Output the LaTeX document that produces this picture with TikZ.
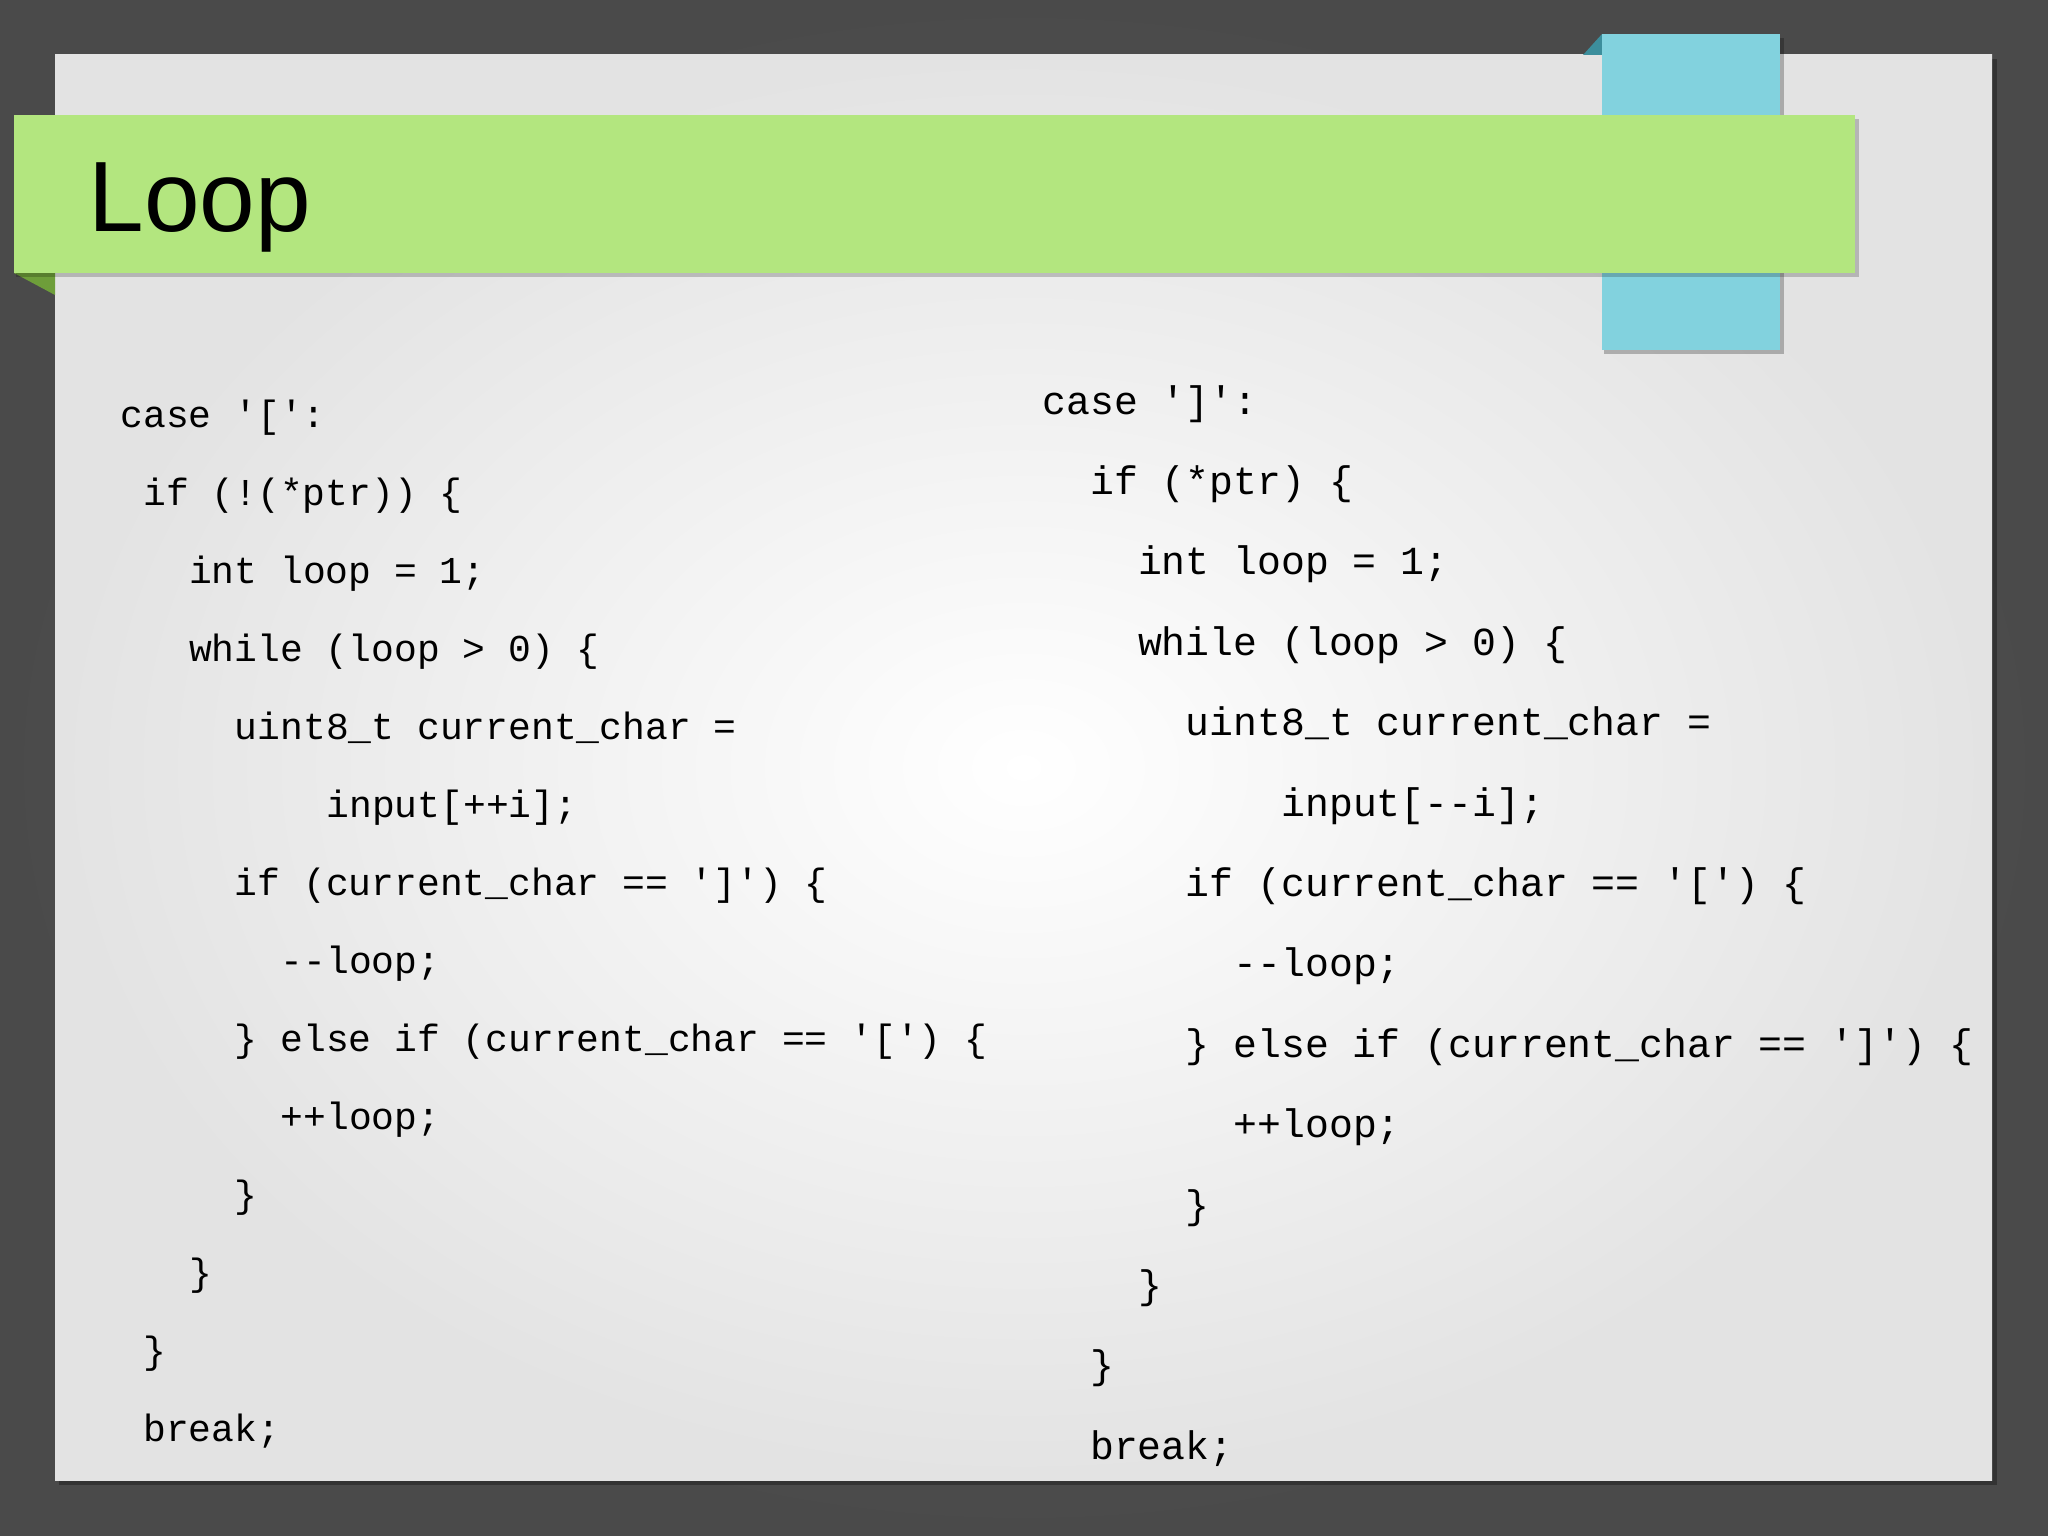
\documentclass[tikz,border=0pt]{standalone}
\usepackage{fontspec}
\setmainfont{Liberation Sans}
\newfontfamily\codef{Liberation Mono}
\definecolor{bggray}{HTML}{4A4A4A}
\definecolor{barg}{HTML}{B3E67F}
\definecolor{darkg}{HTML}{6E9E3A}
\definecolor{blueb}{HTML}{82D2DE}
\definecolor{darkb}{HTML}{3C8E9C}
\tikzset{
 lc/.style={anchor=base west,inner sep=0pt,font=\codef\fontsize{19}{19}\selectfont},
 rc/.style={anchor=base west,inner sep=0pt,font=\codef\fontsize{19.9}{19.9}\selectfont}
}
\newcommand{\Lx}[1]{\fpeval{120+#1*22.9}}
\newcommand{\Rx}[1]{\fpeval{1042+#1*23.9}}
\newcommand{\Ly}[1]{\fpeval{427+#1*78}}
\newcommand{\Ry}[1]{\fpeval{414+#1*80.4}}
\begin{document}
\begin{tikzpicture}[x=0.5pt,y=-0.5pt]
\useasboundingbox (0,0) rectangle (2048,1535);
\shade[inner color=gray!75!black,outer color=bggray] (0,0) rectangle (2048,1535);
\fill[black,opacity=0.3] (59,59) rectangle (1997,1485);
\shade[inner color=white,outer color=gray!22] (55,55) rectangle (1992,1480);
\fill[darkb] (1583,55) -- (1602,34) -- (1602,55) -- cycle;
\fill[black,opacity=0.25] (1604,38) rectangle (1784,354);
\fill[blueb] (1602,34) rectangle (1780,350);
\fill[darkg] (14,273) -- (55,295) -- (55,273) -- cycle;
\fill[black,opacity=0.2] (16,119) rectangle (1859,277);
\fill[barg] (14,115) rectangle (1855,273);
\node[anchor=base west,inner sep=0pt,font=\fontsize{50}{50}\selectfont] (title) at (88,232) {Loop};
\node[lc] (l0) at (\Lx{0},\Ly{0}) {case '[':};
\node[lc] (l1) at (\Lx{1},\Ly{1}) {if (!(*ptr)) \{};
\node[lc] (l2) at (\Lx{3},\Ly{2}) {int loop = 1;};
\node[lc] (l3) at (\Lx{3},\Ly{3}) {while (loop > 0) \{};
\node[lc] (l4) at (\Lx{5},\Ly{4}) {uint8\_t current\_char =};
\node[lc] (l5) at (\Lx{9},\Ly{5}) {input[++i];};
\node[lc] (l6) at (\Lx{5},\Ly{6}) {if (current\_char == ']') \{};
\node[lc] (l7) at (\Lx{7},\Ly{7}) {-{}-loop;};
\node[lc] (l8) at (\Lx{5},\Ly{8}) {\} else if (current\_char == '[') \{};
\node[lc] (l9) at (\Lx{7},\Ly{9}) {++loop;};
\node[lc] (l10) at (\Lx{5},\Ly{10}) {\}};
\node[lc] (l11) at (\Lx{3},\Ly{11}) {\}};
\node[lc] (l12) at (\Lx{1},\Ly{12}) {\}};
\node[lc] (l13) at (\Lx{1},\Ly{13}) {break;};
\node[rc] (r0) at (\Rx{0},\Ry{0}) {case ']':};
\node[rc] (r1) at (\Rx{2},\Ry{1}) {if (*ptr) \{};
\node[rc] (r2) at (\Rx{4},\Ry{2}) {int loop = 1;};
\node[rc] (r3) at (\Rx{4},\Ry{3}) {while (loop > 0) \{};
\node[rc] (r4) at (\Rx{6},\Ry{4}) {uint8\_t current\_char =};
\node[rc] (r5) at (\Rx{10},\Ry{5}) {input[-{}-i];};
\node[rc] (r6) at (\Rx{6},\Ry{6}) {if (current\_char == '[') \{};
\node[rc] (r7) at (\Rx{8},\Ry{7}) {-{}-loop;};
\node[rc] (r8) at (\Rx{6},\Ry{8}) {\} else if (current\_char == ']') \{};
\node[rc] (r9) at (\Rx{8},\Ry{9}) {++loop;};
\node[rc] (r10) at (\Rx{6},\Ry{10}) {\}};
\node[rc] (r11) at (\Rx{4},\Ry{11}) {\}};
\node[rc] (r12) at (\Rx{2},\Ry{12}) {\}};
\node[rc] (r13) at (\Rx{2},\Ry{13}) {break;};
\end{tikzpicture}
\end{document}
